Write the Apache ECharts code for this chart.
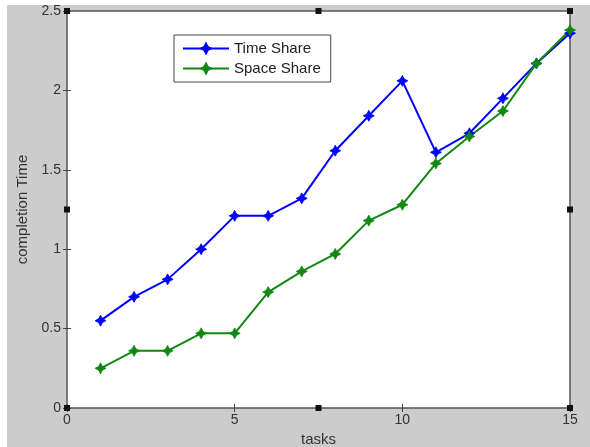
<!DOCTYPE html>
<html><head><meta charset="utf-8">
<script src="https://cdn.jsdelivr.net/npm/echarts@6/dist/echarts.min.js"></script>
<style>html,body{margin:0;padding:0;background:#fff}#c{width:590px;height:447px}</style>
</head><body><div id="c"></div>
<script>
const tasks = [1,2,3,4,5,6,7,8,9,10,11,12,13,14,15];
const timeShare = [0.55,0.70,0.81,1.00,1.21,1.21,1.32,1.62,1.84,2.06,1.61,1.73,1.95,2.17,2.36];
const spaceShare = [0.25,0.36,0.36,0.47,0.47,0.73,0.86,0.97,1.18,1.28,1.54,1.71,1.87,2.17,2.38];
const xTicks = [0,5,10,15];
const yTicks = [0,0.5,1,1.5,2,2.5];

const chart = echarts.init(document.getElementById('c'));
const star = 'path://M0,-10 L3.5,-3.5 L10,0 L3.5,3.5 L0,10 L-3.5,3.5 L-10,0 L-3.5,-3.5 Z';
const L = 67, R = 570, T = 11, B = 408;
const handles = [[L,T],[R,T],[L,B],[R,B],[L,(T+B)/2],[R,(T+B)/2],[(L+R)/2,T],[(L+R)/2,B]];
const font = 'Liberation Sans, Arial, sans-serif';
const mk = (name, data, color) => ({
  name, type:'line', data: tasks.map((t,i)=>[t,data[i]]),
  symbol: star, symbolSize: 11, showSymbol:true,
  lineStyle:{color, width:2}, itemStyle:{color, borderColor:color, borderWidth:0.8},
  emphasis:{disabled:true}, z:3
});
chart.setOption({
  animation:false,
  backgroundColor:'#fff',
  graphic:[
    {type:'rect', shape:{x:7,y:5,width:583,height:442}, style:{fill:'#cccccc'}, z:-10, silent:true},
    ...handles.map(h=>({type:'rect', shape:{x:h[0]-3,y:h[1]-3,width:6,height:6}, style:{fill:'#111'}, z:100, silent:true}))
  ],
  grid:{left:L, right:590-R, top:T, bottom:447-B, show:true, containLabel:false, outerBoundsMode:'none',
        backgroundColor:'#fff', borderColor:'#555', borderWidth:1.5},
  legend:{
    orient:'vertical', left:174, top:35, width:154,
    data:['Time Share','Space Share'],
    backgroundColor:'#fff', borderColor:'#444', borderWidth:1,
    padding:[6,10,6,8], itemGap:5, itemWidth:46, itemHeight:12,
    textStyle:{fontFamily:font, fontSize:15, color:'#222'}
  },
  xAxis:[
    {type:'value', min:0, max:15, interval:5, name:'tasks', nameLocation:'middle', nameGap:22,
     nameTextStyle:{fontFamily:font, fontSize:15, color:'#333'},
     axisLine:{show:false}, axisTick:{inside:true, length:4, lineStyle:{color:'#444'}},
     axisLabel:{fontFamily:font, fontSize:14, color:'#333', margin:5}, splitLine:{show:false}},
    {type:'value', position:'top', min:0, max:15, interval:5,
     axisLine:{show:false}, axisTick:{inside:true, length:4, lineStyle:{color:'#444'}},
     axisLabel:{show:false}, splitLine:{show:false}}
  ],
  yAxis:[
    {type:'value', min:0, max:2.5, interval:0.5, name:'completion Time', nameLocation:'middle', nameGap:34,
     nameTextStyle:{fontFamily:font, fontSize:15, color:'#333'},
     axisLine:{show:false}, axisTick:{inside:true, length:4, lineStyle:{color:'#444'}},
     axisLabel:{fontFamily:font, fontSize:14, color:'#333', margin:6, formatter:v=>String(v)}, splitLine:{show:false}},
    {type:'value', position:'right', min:0, max:2.5, interval:0.5,
     axisLine:{show:false}, axisTick:{inside:true, length:4, lineStyle:{color:'#444'}},
     axisLabel:{show:false}, splitLine:{show:false}}
  ],
  series:[ mk('Time Share', timeShare, '#0000ff'), mk('Space Share', spaceShare, '#118811') ]
});
</script></body></html>
